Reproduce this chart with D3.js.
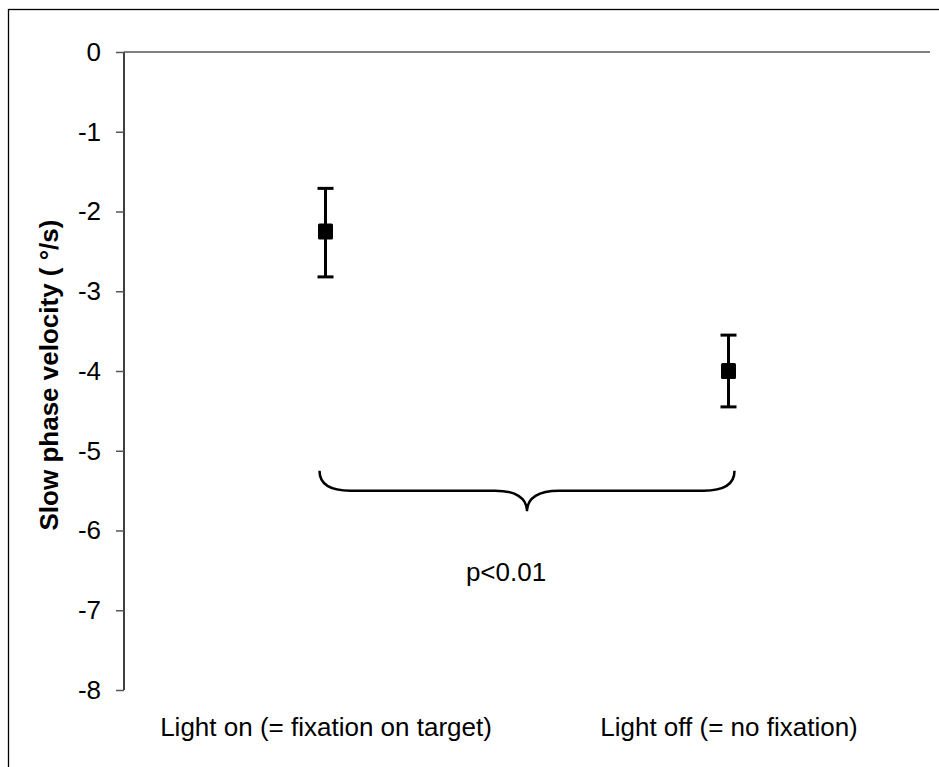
<!DOCTYPE html>
<html>
<head>
<meta charset="utf-8">
<script src="https://cdn.jsdelivr.net/npm/d3@7"></script>
<style>
  body { margin: 0; background: #fff; }
  svg { display: block; font-family: "Liberation Sans", Arial, sans-serif; }
</style>
</head>
<body>
<svg id="chart" width="939" height="767"></svg>
<script>
// chart values
const categories = ['Light on (= fixation on target)', 'Light off (= no fixation)'];
const means = [-2.25, -4.0];
const upper = [-1.71, -3.55];
const lower = [-2.82, -4.45];
const yTicks = [0, -1, -2, -3, -4, -5, -6, -7, -8];
const pLabel = 'p<0.01';
const braceY = { top: -5.25, mid: -5.5, tip: -5.76 };

const svg = d3.select('#chart');

// outer frame (only top and left edges are visible in the picture)
svg.append('rect')
  .attr('x', 8.5).attr('y', 9.5)
  .attr('width', 960).attr('height', 800)
  .attr('fill', 'none')
  .attr('stroke', '#000')
  .attr('stroke-width', 1.3);

const y = d3.scaleLinear().domain([-8, 0]).range([690, 52]);
const x = d3.scalePoint().domain(categories).range([124, 930]).padding(0.5);

// y axis, plain hyphen for negatives
const yAxis = svg.append('g')
  .attr('transform', 'translate(124,0)')
  .call(d3.axisLeft(y).tickValues(yTicks).tickSize(8).tickPadding(15).tickFormat(d => String(d)));
yAxis.select('.domain').attr('stroke', '#000').attr('stroke-width', 1.5)
  .attr('d', `M0,${y(0)}V${y(-8)}`);
yAxis.selectAll('.tick line').attr('stroke', '#555').attr('stroke-width', 1.5);
yAxis.selectAll('.tick text')
  .style('font-size', '26px')
  .attr('fill', '#000');

// top axis line at zero
svg.append('line')
  .attr('x1', 124).attr('x2', 930)
  .attr('y1', y(0)).attr('y2', y(0))
  .attr('stroke', '#555')
  .attr('stroke-width', 1.5);

// category labels
const xAxis = svg.append('g')
  .attr('transform', `translate(0,${y(-8)})`)
  .call(d3.axisBottom(x).tickSize(0).tickPadding(28));
xAxis.select('.domain').remove();
xAxis.selectAll('.tick text').style('font-size', '26px').attr('fill', '#000');

// y axis title
svg.append('text')
  .attr('transform', `translate(58,${(y(0) + y(-8)) / 2 + 4}) rotate(-90)`)
  .attr('text-anchor', 'middle')
  .style('font-size', '26px')
  .style('font-weight', 'bold')
  .text('Slow phase velocity ( °/s)');

// error bars
const bars = svg.append('g');
categories.forEach((c, i) => {
  const cx = x(c);
  bars.append('line')
    .attr('x1', cx).attr('x2', cx)
    .attr('y1', y(upper[i])).attr('y2', y(lower[i]))
    .attr('stroke', '#000').attr('stroke-width', 3);
  [upper[i], lower[i]].forEach(v => {
    bars.append('line')
      .attr('x1', cx - 8).attr('x2', cx + 8)
      .attr('y1', y(v)).attr('y2', y(v))
      .attr('stroke', '#000').attr('stroke-width', 3);
  });
  bars.append('rect')
    .attr('x', cx - 7.5).attr('y', y(means[i]) - 8)
    .attr('width', 15).attr('height', 16)
    .attr('rx', 1.5)
    .attr('fill', '#000');
});

// curly brace between the two conditions
const x0 = x(categories[0]) - 6;
const x1 = x(categories[1]) + 6;
const xm = (x0 + x1) / 2;
const yt = y(braceY.top), yh = y(braceY.mid), yp = y(braceY.tip);
const path = d3.path();
path.moveTo(x0, yt);
path.bezierCurveTo(x0, yh - 6, x0 + 11, yh, x0 + 31, yh);
path.lineTo(xm - 32, yh);
path.bezierCurveTo(xm - 12, yh, xm, yh + 7, xm, yp);
path.bezierCurveTo(xm, yh + 7, xm + 12, yh, xm + 32, yh);
path.lineTo(x1 - 31, yh);
path.bezierCurveTo(x1 - 11, yh, x1, yh - 6, x1, yt);
svg.append('path')
  .attr('d', path.toString())
  .attr('fill', 'none')
  .attr('stroke', '#000')
  .attr('stroke-width', 2.5);

svg.append('text')
  .attr('x', xm - 21)
  .attr('y', 581)
  .attr('text-anchor', 'middle')
  .style('font-size', '26px')
  .text(pLabel);
</script>
</body>
</html>
